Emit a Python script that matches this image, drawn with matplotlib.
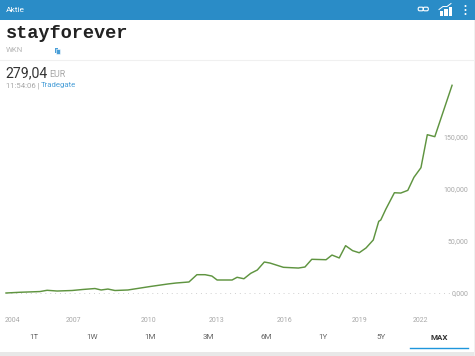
import matplotlib
matplotlib.use('Agg')
import matplotlib.pyplot as plt
from matplotlib.patches import Rectangle, FancyBboxPatch, Circle

plt.rcParams['font.family'] = ['Roboto', 'DejaVu Sans']

years = [2004.00, 2004.62, 2005.50, 2005.81, 2006.25, 2006.91, 2007.39, 2007.92, 2008.19, 2008.49,
         2008.80, 2009.37, 2010.34, 2011.14, 2011.49, 2012.06, 2012.41, 2012.77, 2013.07, 2013.30,
         2013.96, 2014.18, 2014.48, 2014.78, 2015.07, 2015.38, 2015.63, 2016.22, 2016.88, 2017.17,
         2017.47, 2018.10, 2018.36, 2018.68, 2018.96, 2019.27, 2019.56, 2019.86, 2020.18, 2020.42,
         2020.51, 2020.73, 2021.11, 2021.39, 2021.70, 2021.97, 2022.28, 2022.56, 2022.89, 2023.65]
values = [0, 700, 1400, 2600, 1900, 2400, 3400, 4300, 2900, 3800,
          2400, 2900, 6200, 8700, 9600, 10600, 17600, 17600, 16300, 12500,
          12500, 15100, 13700, 18900, 22100, 29800, 28800, 24700, 24000, 25000,
          32400, 32000, 36500, 33700, 45500, 40700, 38700, 43300, 51000, 68900,
          70200, 80500, 96400, 96100, 98700, 111200, 120500, 152200, 150300, 199700]

y_ticks = [0, 50000, 100000, 150000]
y_labels = ['0,000', '50,000', '100,000', '150,000']
x_ticks = [2004.30, 2006.99, 2010.28, 2013.28, 2016.28, 2019.59, 2022.26]
x_labels = ['2004', '2007', '2010', '2013', '2016', '2019', '2022']
tabs = ['1T', '1W', '1M', '3M', '6M', '1Y', '5Y', 'MAX']

W, H = 475, 356
fig = plt.figure(figsize=(W / 100, H / 100), dpi=100, facecolor='white')

# overlay in pixel coords for the app chrome
bg = fig.add_axes([0, 0, 1, 1])
bg.set_xlim(0, W)
bg.set_ylim(H, 0)
bg.axis('off')

blue = '#2a8cc7'
bg.add_patch(Rectangle((0, 0), W, 20, color=blue, lw=0))
bg.text(6, 9.5, 'Aktie', color='white', fontsize=6, va='center')
bg.text(5.5, 33.5, 'stayforever', family='Liberation Mono', weight='bold', fontsize=13.4,
        color='#222222', va='center')
bg.text(6, 49.5, 'WKN', color='#b5b5b5', fontsize=5.6, va='center')
bg.add_patch(Rectangle((54.5, 47.5), 3.5, 5, fc='#4a9fd8', ec='none'))
bg.add_patch(Rectangle((56, 49), 3.5, 5, fc='#4a9fd8', ec='white', lw=0.4))
bg.plot([0, W], [59.5, 59.5], color='#f0f0f0', lw=0.8)
bg.text(5.5, 73, '279,04', color='#333333', fontsize=10.2, va='center')
bg.text(49, 74.5, 'EUR', color='#a8a8a8', fontsize=6.4, va='center')
bg.text(6, 85.5, '11:54:06 |', color='#a8a8a8', fontsize=5.6, va='center')
bg.text(41, 85.5, 'Tradegate', color='#4a9fd8', fontsize=5.6, va='center')

# link icon
bg.add_patch(FancyBboxPatch((419, 8), 3.5, 2, boxstyle='round,pad=0.8,rounding_size=1.4', fc='none', ec='white', lw=0.8))
bg.add_patch(FancyBboxPatch((424, 8), 3.5, 2, boxstyle='round,pad=0.8,rounding_size=1.4', fc='none', ec='white', lw=0.8))
# chart icon
bg.add_patch(Rectangle((439.5, 11), 3.5, 4.5, fc='white', lw=0))
bg.add_patch(Rectangle((444, 9), 3.5, 6.5, fc='white', lw=0))
bg.add_patch(Rectangle((448.5, 7), 3.5, 8.5, fc='white', lw=0))
bg.plot([439, 443, 447, 451], [9.5, 6.5, 6.5, 3.5], color='white', lw=0.7)
# menu dots
for dy in [6, 10, 14]:
    bg.add_patch(Circle((465.5, dy), 1, fc='white', lw=0))

tab_x = [34, 92, 150, 208, 266, 323, 381, 439]
for i in range(len(tabs)):
    if tabs[i] == 'MAX':
        bg.text(tab_x[i], 337, tabs[i], color='#333333', fontsize=5.8, weight='bold', ha='center', va='center')
    else:
        bg.text(tab_x[i], 337, tabs[i], color='#666666', fontsize=5.8, ha='center', va='center')
bg.plot([410, 468], [348.3, 348.3], color='#1e96dc', lw=1.0)
bg.add_patch(Rectangle((0, 352), W, 4, color='#e8e8e8', lw=0))
bg.add_patch(Rectangle((473.5, 20), 1.5, 336, color='#f0f0f0', lw=0))

# chart axes: px x 0..470, px y 80..316
ax = fig.add_axes([0, (H - 316) / H, 470 / W, (316 - 80) / H])
ax.patch.set_alpha(0)
k = 22.7
ax.set_xlim(2004 - 6 / k, 2004 + (470 - 6) / k)
per_px = 961.5
ax.set_ylim(-(316 - 293) * per_px, (293 - 80) * per_px)

ax.axhline(0, xmin=6 / 470, xmax=452 / 470, color='#cfcfcf', lw=0.7, ls=(0, (1, 4)))
ax.plot(years, values, color='#5f9440', lw=1.05, solid_joinstyle='round')

for s in ax.spines.values():
    s.set_visible(False)
ax.yaxis.tick_right()
ax.set_yticks(y_ticks)
ax.set_yticklabels(y_labels, ha='right')
ax.set_xticks(x_ticks)
ax.set_xticklabels(x_labels)
ax.tick_params(axis='y', length=0, pad=-1, labelsize=5, labelcolor='#a8a8a8')
ax.tick_params(axis='x', length=0, pad=0.5, labelsize=5, labelcolor='#a8a8a8')

fig.savefig('out.png', dpi=100)
